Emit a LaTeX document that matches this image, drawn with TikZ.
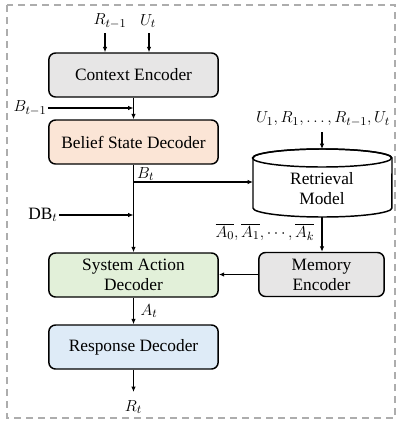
\documentclass[tikz,border=0pt]{standalone}
\usepackage{fontspec}
\setmainfont{Liberation Serif}
\usetikzlibrary{arrows.meta,calc}
\definecolor{boxgray}{HTML}{E7E6E6}
\definecolor{boxpeach}{HTML}{FBE5D6}
\definecolor{boxgreen}{HTML}{E2F0D9}
\definecolor{boxblue}{HTML}{DEEBF7}
\definecolor{framegray}{HTML}{ADADAD}
\tikzset{
	block/.style={draw=black, line width=1.1pt, rounded corners=5pt, minimum width=127pt, minimum height=33pt, align=center, inner sep=0pt},
	arr/.style={line width=0.8pt, -{Latex[length=4pt,width=3.4pt]}},
	lbl/.style={inner sep=1pt}
}

\begin{document}
\begin{tikzpicture}[x=0.75pt, y=-0.75pt, font=\fontsize{13}{15}\selectfont]
			%%%%% START %%%%%
			
			\useasboundingbox (0, 0) rectangle (402, 425);
			\draw[framegray, line width=1.4pt, dash pattern=on 5.5pt off 3.5pt] (7, 5) rectangle (395, 418);
			
			% left column
			\node[block, fill=boxgray] (ctx) at (133.5, 75) {Context Encoder};
			\node[block, fill=boxpeach] (bel) at (133.5, 142) {Belief State Decoder};
			\node[block, fill=boxgreen] (sad) at (133.5, 275) {System Action\\Decoder};
			\node[block, fill=boxblue] (resp) at (133.5, 347) {Response Decoder};
			
			% retrieval side
			\draw[line width=1.1pt, fill=white] (253, 158) -- (253, 208) arc[start angle=180, end angle=360, x radius=52.1pt, y radius=6.75pt] -- (392, 158) arc[start angle=0, end angle=180, x radius=52.1pt, y radius=6.75pt] -- cycle;
			\draw[line width=1.1pt] (322, 158) ellipse [x radius=52.1pt, y radius=6.75pt];
			\coordinate (rtop) at (322, 149);
			\coordinate (rbot) at (322, 217);
			\node[align=center, inner sep=0pt] (retr) at (322, 189) {Retrieval\\Model};
			\node[block, fill=boxgray, minimum width=94pt] (mem) at (321.5, 274.5) {Memory\\Encoder};
			
			% inputs
			\node[lbl] (rprev) at (110, 21) {$R_{t-1}$};
			\node[lbl] (ucur) at (148, 21) {$U_t$};
			\coordinate (rin) at (105, 33);
			\coordinate (uin) at (149, 33);
			\draw[arr] (rin) -- (rin |- ctx.north);
			\draw[arr] (uin) -- (uin |- ctx.north);
			
			\node[lbl] (bprev) at (30, 108) {$B_{t-1}$};
			\draw[arr] (ctx.south) -- (bel.north);
			\draw[arr] (bprev.east) -- (bprev.east -| ctx.south);
			
			\node[lbl, anchor=north west] (bcur) at ($(bel.south)+(2, 1)$) {$B_t$};
			\coordinate (bsplit) at (133.5, 182);
			\draw[arr] (bel.south) -- (sad.north);
			\draw[arr] (bsplit) -- (bsplit -| 253, 0);
			
			\node[lbl] (db) at (43, 215) {$\mathrm{DB}_t$};
			\draw[arr] (db.east) -- (db.east -| bel.south);
			
			\node[lbl] (hist) at (323, 119) {$U_1, R_1, \ldots, R_{t-1}, U_t$};
			\coordinate (hin) at (322, 132);
			\draw[arr] (hin) -- (rtop);
			
			\node[lbl] (mems) at (265, 232) {$\overline{A_0}, \overline{A_1}, \cdots, \overline{A_k}$};
			\draw[arr] (rbot) -- (rbot |- mem.north);
			\draw[arr] (mem.west) -- (mem.west -| sad.east);
			
			\node[lbl] (acur) at (149, 311) {$A_t$};
			\draw[arr] (sad.south) -- (resp.north);
			
			\node[lbl] (rcur) at (133.5, 407) {$R_t$};
			\draw[arr] (resp.south) -- (resp.south |- 0, 392);
			
			%%%%% END %%%%%
\end{tikzpicture}
\end{document}
